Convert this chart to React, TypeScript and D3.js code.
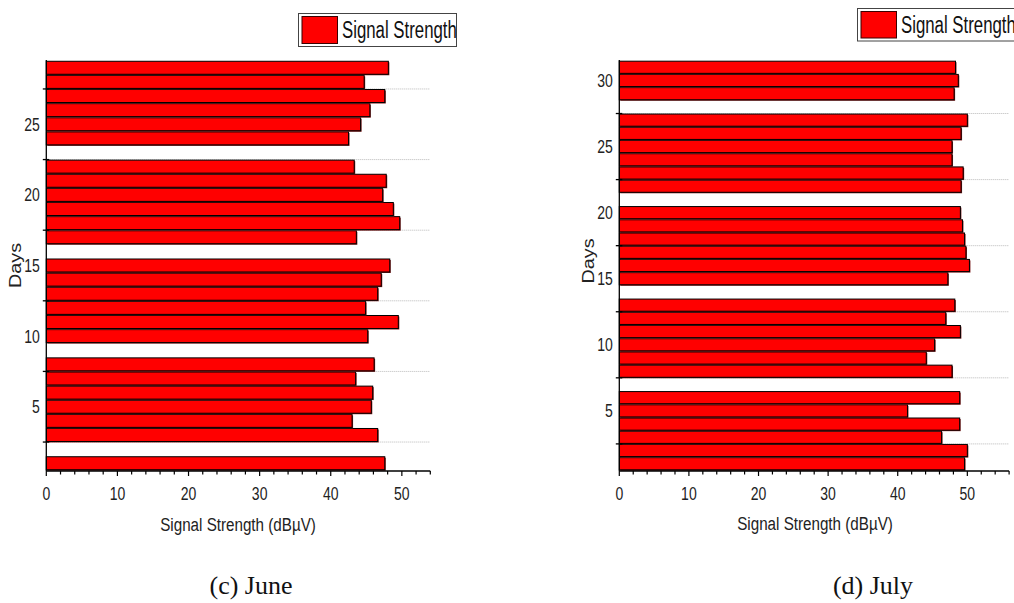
import React from "react";
import * as d3 from "d3";

const juneDays = [1, 3, 4, 5, 6, 7, 8, 10, 11, 12, 13, 14, 15, 17, 18, 19, 20, 21, 22, 24, 25, 26, 27, 28, 29];
const juneValues = [47.6, 46.6, 43.0, 45.7, 45.9, 43.5, 46.1, 45.2, 49.5, 44.9, 46.6, 47.1, 48.3, 43.6, 49.7, 48.8, 47.3, 47.8, 43.3, 42.5, 44.2, 45.5, 47.6, 44.7, 48.1];

// July (d)
const julyDays = [1, 2, 3, 4, 5, 6, 8, 9, 10, 11, 12, 13, 15, 16, 17, 18, 19, 20, 22, 23, 24, 25, 26, 27, 29, 30, 31];
const julyValues = [49.6, 50.0, 46.3, 48.9, 41.4, 48.9, 47.8, 44.1, 45.3, 49.0, 46.9, 48.2, 47.2, 50.3, 49.8, 49.6, 49.3, 49.0, 49.1, 49.4, 47.8, 47.8, 49.1, 50.0, 48.1, 48.7, 48.3];

const xMajorTicks = [0, 10, 20, 30, 40, 50];
const juneDayLabels = [5, 10, 15, 20, 25];
const julyDayLabels = [5, 10, 15, 20, 25, 30];
const dayMinorTicks = [2.5, 7.5, 12.5, 17.5, 22.5, 27.5];

const legendLabel = "Signal Strength";
const xTitle = "Signal Strength (dBµV)";
const yTitle = "Days";

// no narrow font installed, so the sans is squeezed with a scale
const SANS = "'Liberation Sans', Arial, sans-serif";
const SERIF = "'Liberation Serif', 'Times New Roman', serif";

const Panel = ({ days, values, dayLabels, xMax, dayMax, left, right, top, bottom, legend, title, caption }) => {
  const x = d3.scaleLinear().domain([0, xMax]).range([left, right]);
  const y = d3.scaleLinear().domain([0.45, dayMax + 0.55]).range([bottom, top]);
  const minor = d3.range(0, xMax + 0.001, 2);
  const half = 0.46;

  return (
    <g>
      {/* dotted grid lines */}
      {dayMinorTicks.filter((t) => y(t) > top).map((t) => (
        <line key={"g" + t} x1={x(0)} x2={x(xMax)} y1={y(t)} y2={y(t)}
          stroke="#b8b8b8" strokeWidth={1} strokeDasharray="1,1" />
      ))}

      {/* bars */}
      {days.map((d, i) => {
        const y0 = y(d + half);
        const h = y(d - half) - y0;
        const w = x(values[i]) - x(0);
        return (
          <g key={"b" + d}>
            <rect x={x(0) + 1} y={y0 + 1} width={w} height={h} fill="#7a1c1c" />
            <rect x={x(0)} y={y0} width={w} height={h} fill="#ff0000" stroke="#000" strokeWidth={1} />
          </g>
        );
      })}

      {/* y axis */}
      <line x1={x(0)} x2={x(0)} y1={top} y2={bottom} stroke="#000" strokeWidth={1.3} />
      {dayMinorTicks.filter((t) => y(t) > top).map((t) => (
        <line key={"yt" + t} x1={x(0) - 3.5} x2={x(0) + 3} y1={y(t)} y2={y(t)} stroke="#000" strokeWidth={1.3} />
      ))}
      {dayLabels.map((t) => (
        <text key={"yl" + t} transform={`translate(${x(0) - 6.5},${y(t) + 6.6}) scale(0.8,1.1)`}
          textAnchor="end" fontFamily={SANS} fontSize={17.5} fill="#222">{t}</text>
      ))}
      <text transform={`translate(${title.yx},${title.yy}) rotate(-90) scale(1.1,0.88)`}
        textAnchor="middle" fontFamily={SANS} fontSize={18} fill="#222">{yTitle}</text>

      {/* x axis */}
      <line x1={x(0)} x2={x(xMax)} y1={bottom} y2={bottom} stroke="#000" strokeWidth={1.3} />
      {minor.map((t) => (
        <line key={"xt" + t} x1={x(t)} x2={x(t)} y1={bottom}
          y2={bottom + (t % 10 === 0 ? 5 : 3.5)} stroke="#000" strokeWidth={1.2} />
      ))}
      {xMajorTicks.map((t) => (
        <text key={"xl" + t} transform={`translate(${x(t)},${bottom + 29}) scale(0.8,1.1)`}
          textAnchor="middle" fontFamily={SANS} fontSize={17.5} fill="#222">{t}</text>
      ))}
      <text transform={`translate(${title.xx},${title.xy}) scale(0.8,1.0)`} textAnchor="middle"
        fontFamily={SANS} fontSize={19} fill="#222">{xTitle}</text>

      {/* legend */}
      <rect x={legend.x} y={legend.y} width={legend.w} height={legend.h} fill="#fff" stroke="#444" strokeWidth={1} />
      <rect x={legend.x + 3.5} y={legend.y + 3} width={35.5} height={legend.h - 6} fill="#ff0000" stroke="#3a0000" strokeWidth={1} />
      <text transform={`translate(${legend.x + 43.5},${legend.y + 24.5}) scale(0.8,1.15)`}
        fontFamily={SANS} fontSize={21} fill="#111">{legendLabel}</text>

      {/* caption */}
      <text x={caption.x} y={caption.y} textAnchor="middle" fontFamily={SERIF} fontSize={26} fill="#111">{caption.text}</text>
    </g>
  );
};

export default function App() {
  return (
    <svg width={1014} height={603} style={{ position: "absolute", left: 0, top: 0, background: "#fff" }}>
      <Panel
        days={juneDays}
        values={juneValues}
        dayLabels={juneDayLabels}
        xMax={54}
        dayMax={29}
        left={46.3}
        right={430.3}
        top={60}
        bottom={471}
        legend={{ x: 298.5, y: 13.5, w: 158, h: 33 }}
        title={{ xx: 238, xy: 530.5, yx: 20.5, yy: 265.5 }}
        caption={{ x: 251, y: 594, text: "(c) June" }}
      />
      <Panel
        days={julyDays}
        values={julyValues}
        dayLabels={julyDayLabels}
        xMax={56}
        dayMax={31}
        left={619.3}
        right={1009.1}
        top={60}
        bottom={471}
        legend={{ x: 857.5, y: 8.5, w: 170, h: 32.5 }}
        title={{ xx: 815, xy: 529.5, yx: 593.5, yy: 261 }}
        caption={{ x: 873, y: 593.5, text: "(d) July" }}
      />
    </svg>
  );
}
